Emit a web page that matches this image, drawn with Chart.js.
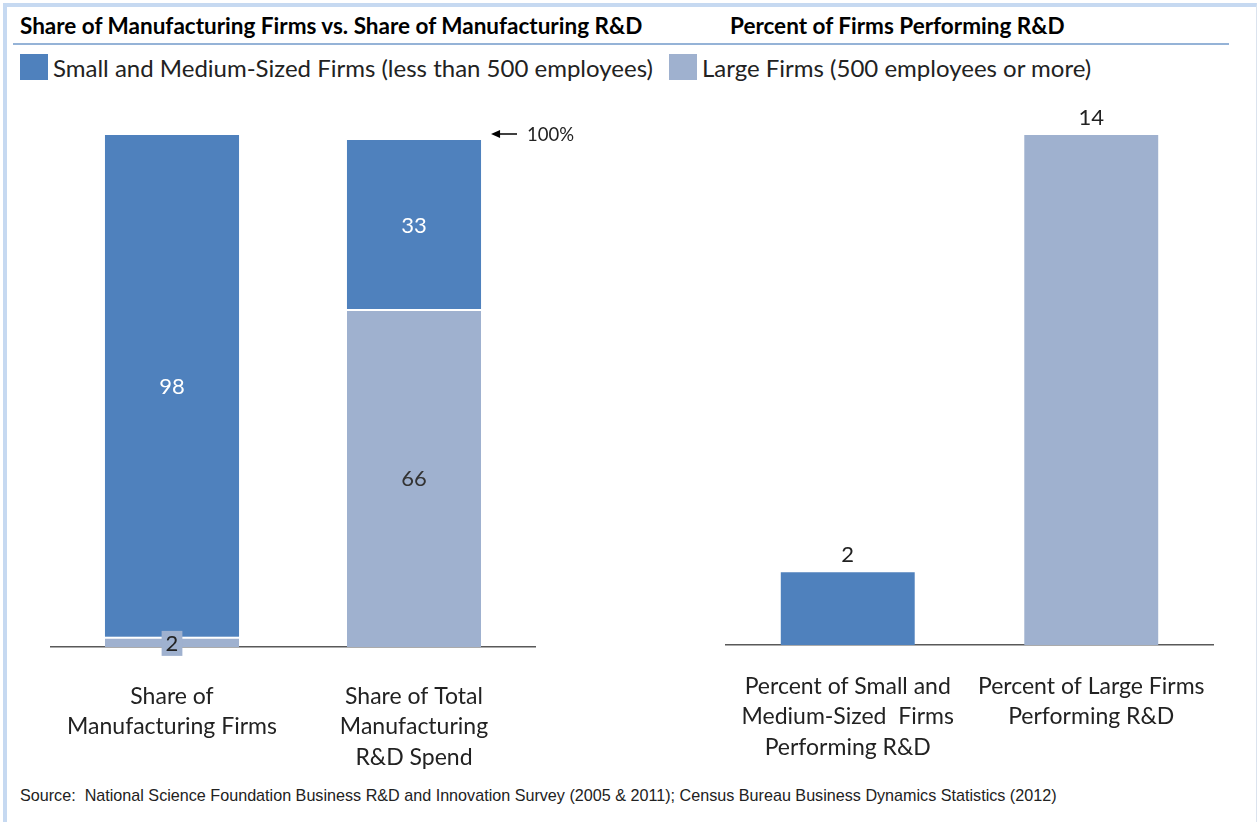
<!DOCTYPE html>
<html lang="en">
<head>
    <meta charset="UTF-8">
    <title>Manufacturing R&amp;D by firm size</title>
    <script src="https://cdn.jsdelivr.net/npm/chart.js@4.4.0/dist/chart.umd.min.js"></script>
    <style>
        body {
            margin: 0;
            padding: 0;
            background-color: #ffffff;
            font-family: 'Lato', sans-serif;
        }

        .frame {
            position: absolute;
            left: 3px;
            top: 3px;
            width: 1249px;
            height: 819px;
            border-top: 4px solid #c6d9f1;
            border-left: 4px solid #c6d9f1;
            border-right: 1px solid #dbe3ee;
        }

        .title {
            position: absolute;
            top: 12px;
            font-weight: bold;
            font-size: 22.5px;
            color: #000;
            white-space: nowrap;
        }

        .rule {
            position: absolute;
            left: 13px;
            top: 43px;
            width: 1216px;
            height: 2px;
            background-color: #95b3d7;
        }

        .legend-item {
            position: absolute;
            top: 54px;
            font-size: 24px;
            color: #222;
            white-space: nowrap;
            line-height: 28px;
        }

        .swatch {
            display: inline-block;
            width: 28px;
            height: 26px;
            vertical-align: top;
            margin-right: 5px;
        }

        .chart-box {
            position: absolute;
            top: 100px;
            height: 680px;
        }

        .source {
            position: absolute;
            left: 20px;
            top: 786px;
            font-family: 'Liberation Sans', sans-serif;
            font-size: 17px;
            color: #222;
            white-space: nowrap;
            transform: scaleX(0.95);
            transform-origin: left center;
        }
    </style>
</head>

<body>
    <div class="frame"></div>

    <div class="title" style="left: 20px;">Share of Manufacturing Firms vs. Share of Manufacturing R&amp;D</div>
    <div class="title" style="left: 730px;">Percent of Firms Performing R&amp;D</div>
    <div class="rule"></div>

    <div class="legend-item" style="left: 20px;"><span class="swatch" id="swSmall"></span><span id="lgSmall"></span></div>
    <div class="legend-item" style="left: 669px;"><span class="swatch" id="swLarge"></span><span id="lgLarge"></span></div>

    <div class="chart-box" style="left: 0px; width: 600px;">
        <canvas id="shareChart" width="600" height="680"></canvas>
    </div>
    <div class="chart-box" style="left: 640px; width: 617px;">
        <canvas id="percentChart" width="617" height="680"></canvas>
    </div>

    <div class="source">Source:&nbsp; National Science Foundation Business R&amp;D and Innovation Survey (2005 &amp; 2011); Census Bureau Business Dynamics Statistics (2012)</div>

  <script>
    // chart data
    var seriesNames = ['Small and Medium-Sized Firms (less than 500 employees)', 'Large Firms (500 employees or more)'];
    var seriesColors = ['#4f81bd', '#9fb1cf'];

    var shareLabels = [['Share of', 'Manufacturing Firms'], ['Share of Total', 'Manufacturing', 'R&D Spend']];
    var shareSmall = [98, 33];
    var shareLarge = [2, 66];

    var percentLabels = [['Percent of Small and', 'Medium-Sized  Firms', 'Performing R&D'], ['Percent of Large Firms', 'Performing R&D']];
    var percentValues = [2, 14];

    var totalMark = 100;

    document.getElementById('swSmall').style.backgroundColor = seriesColors[0];
    document.getElementById('swLarge').style.backgroundColor = seriesColors[1];
    document.getElementById('lgSmall').textContent = seriesNames[0];
    document.getElementById('lgLarge').textContent = seriesNames[1];

    var labelFont = '22px Lato';

    // draws the numbers on the bars
    var valueLabels = {
      id: 'valueLabels',
      afterDatasetsDraw: function (chart) {
        var ctx = chart.ctx;
        var mode = chart.options.plugins.valueLabels.mode;
        ctx.save();
        ctx.font = labelFont;
        ctx.textAlign = 'center';
        ctx.textBaseline = 'middle';

        if (mode === 'stacked') {
          chart.data.datasets.forEach(function (ds, di) {
            chart.getDatasetMeta(di).data.forEach(function (bar, i) {
              var v = ds.data[i];
              var h = bar.base - bar.y;
              var cy = bar.y + h / 2;
              var txt = String(v);
              if (h < 22) {
                // small segment: boxed label
                var w = ctx.measureText(txt).width + 8;
                ctx.fillStyle = seriesColors[1];
                ctx.fillRect(bar.x - w / 2, cy - 11, w, 25);
                ctx.fillStyle = '#222';
                ctx.fillText(txt, bar.x, cy + 2);
              } else {
                ctx.fillStyle = di === 1 ? '#ffffff' : '#333333';
                ctx.fillText(txt, bar.x, cy + 1);
              }
            });
          });

          // 100% marker next to the second bar
          var yTop = chart.scales.y.getPixelForValue(totalMark);
          var last = chart.getDatasetMeta(1).data[1];
          var x0 = last.x + last.width / 2 + 10;
          ctx.strokeStyle = '#000';
          ctx.fillStyle = '#000';
          ctx.lineWidth = 1.5;
          ctx.beginPath();
          ctx.moveTo(x0 + 6, yTop - 1);
          ctx.lineTo(x0 + 26, yTop - 1);
          ctx.stroke();
          ctx.beginPath();
          ctx.moveTo(x0, yTop - 1);
          ctx.lineTo(x0 + 9, yTop - 5);
          ctx.lineTo(x0 + 9, yTop + 3);
          ctx.closePath();
          ctx.fill();
          ctx.font = '18.5px Lato';
          ctx.textAlign = 'left';
          ctx.fillStyle = '#222';
          ctx.fillText(totalMark + '%', x0 + 36, yTop);
        } else {
          ctx.fillStyle = '#222';
          chart.getDatasetMeta(0).data.forEach(function (bar, i) {
            ctx.fillText(String(chart.data.datasets[0].data[i]), bar.x, bar.y - 17);
          });
        }
        ctx.restore();
      }
    };

    function xAxis(height, padding) {
      return {
        grid: { display: false, drawTicks: false },
        border: { display: true, color: '#595959', width: 1.5 },
        ticks: {
          color: '#222',
          font: { family: 'Lato', size: 23, lineHeight: 1.33 },
          padding: padding,
          maxRotation: 0,
          autoSkip: false
        },
        afterFit: function (scale) { scale.height = height; }
      };
    }

    var shareChart = new Chart(document.getElementById('shareChart'), {
      type: 'bar',
      data: {
        labels: shareLabels,
        datasets: [{
          label: seriesNames[1],
          data: shareLarge,
          backgroundColor: seriesColors[1],
          borderColor: '#ffffff',
          borderWidth: { top: 2, right: 0, bottom: 0, left: 0 },
          borderSkipped: false
        }, {
          label: seriesNames[0],
          data: shareSmall,
          backgroundColor: seriesColors[0],
          borderWidth: 0
        }]
      },
      options: {
        responsive: false,
        animation: false,
        layout: { padding: { left: 51, right: 65, top: 35, bottom: 0 } },
        datasets: { bar: { categoryPercentage: 1, barPercentage: 0.554 } },
        scales: {
          x: Object.assign({ stacked: true }, xAxis(133, 34)),
          y: { stacked: true, display: false, min: 0, max: 100 }
        },
        plugins: {
          legend: { display: false },
          tooltip: { enabled: false },
          valueLabels: { mode: 'stacked' }
        }
      },
      plugins: [valueLabels]
    });

    var percentChart = new Chart(document.getElementById('percentChart'), {
      type: 'bar',
      data: {
        labels: percentLabels,
        datasets: [{
          label: 'Percent performing R&D',
          data: percentValues,
          backgroundColor: seriesColors,
          borderWidth: 0
        }]
      },
      options: {
        responsive: false,
        animation: false,
        layout: { padding: { left: 86, right: 44, top: 35, bottom: 0 } },
        datasets: { bar: { categoryPercentage: 1, barPercentage: 0.55 } },
        scales: {
          x: xAxis(135, 26),
          y: { display: false, min: 0, max: 14 }
        },
        plugins: {
          legend: { display: false },
          tooltip: { enabled: false },
          valueLabels: { mode: 'plain' }
        }
      },
      plugins: [valueLabels]
    });
  </script>

</body>
</html>
